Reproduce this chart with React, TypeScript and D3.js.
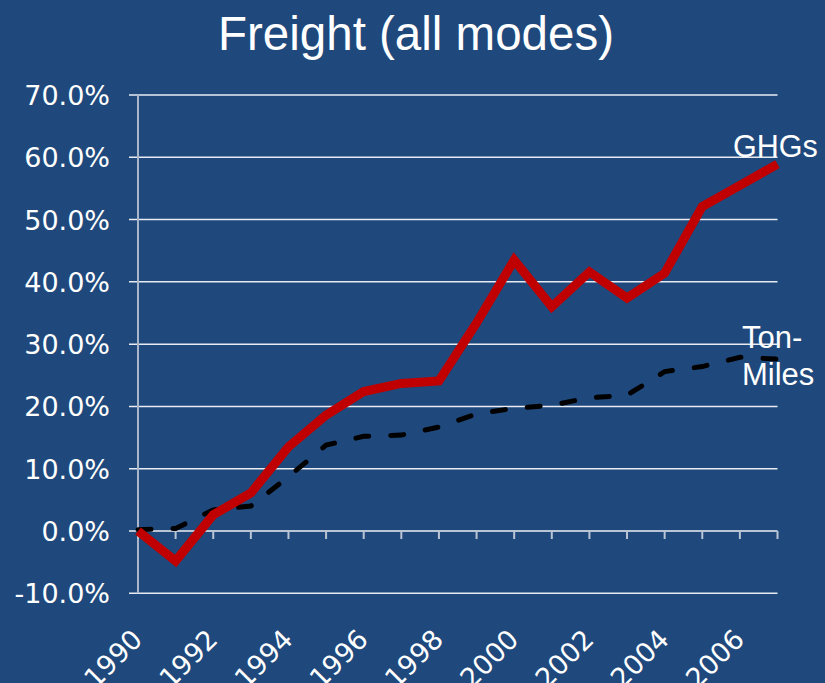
import React from "react";
import * as d3 from "d3";

// values (percent change vs 1990)
const years = [1990, 1991, 1992, 1993, 1994, 1995, 1996, 1997, 1998, 1999, 2000, 2001, 2002, 2003, 2004, 2005, 2006, 2007];
const ghgs = [0, -4.8, 2.6, 6.1, 13.5, 18.6, 22.4, 23.7, 24.1, 33.4, 43.5, 36.0, 41.6, 37.4, 41.4, 52.1, 55.5, 58.9];
const tonMiles = [0.2, 0.4, 3.4, 4.0, 8.7, 13.8, 15.2, 15.4, 16.7, 18.8, 19.7, 20.2, 21.4, 21.8, 25.6, 26.4, 27.9, 27.6];
const yTicks = [-10, 0, 10, 20, 30, 40, 50, 60, 70];
const xLabelYears = [1990, 1992, 1994, 1996, 1998, 2000, 2002, 2004, 2006];

const W = 825;
const H = 683;
const bg = "#1F497D";

const App = () => {
  const x = d3.scaleLinear().domain([1990, 2007]).range([138, 777.5]);
  const y = d3.scaleLinear().domain([-10, 70]).range([593.3, 95]);

  const line = d3.line<number>()
    .x((d, i) => x(years[i]))
    .y((d) => y(d));

  const numFont = "'DejaVu Sans', Verdana, sans-serif";
  const txtFont = "'Liberation Sans', Arial, sans-serif";

  return (
    <svg width={W} height={H} style={{ position: "absolute", left: 0, top: 0 }}>
      <rect x={0} y={0} width={W} height={H} fill={bg} />

      <text x={416} y={50} textAnchor="middle" fill="#fff" fontFamily={txtFont} fontSize={47.5}>
        Freight (all modes)
      </text>

      {/* gridlines + y labels */}
      {yTicks.map((t) => (
        <g key={t}>
          {t !== 0 && (
            <line x1={129} x2={777.5} y1={y(t)} y2={y(t)} stroke="#e8ecf2" strokeWidth={1.5} />
          )}
          <text x={110} y={y(t) + 10} textAnchor="end" fill="#fff" fontFamily={numFont} fontSize={27}>
            {t.toFixed(1) + "%"}
          </text>
        </g>
      ))}

      {/* y axis */}
      <line x1={138} x2={138} y1={95} y2={593.3} stroke="#a9b6c9" strokeWidth={2} />
      {/* category axis at 0% */}
      <line x1={129} x2={777.5} y1={y(0)} y2={y(0)} stroke="#b9c4d4" strokeWidth={2} />
      {years.map((yr) => (
        <line key={yr} x1={x(yr)} x2={x(yr)} y1={y(0)} y2={y(0) + 8} stroke="#b9c4d4" strokeWidth={2} />
      ))}

      {/* x labels (cut by the bottom edge, as in the original) */}
      {xLabelYears.map((yr) => (
        <text
          key={yr}
          transform={`translate(${x(yr) + 6},${641}) rotate(-45)`}
          textAnchor="end"
          fill="#fff"
          fontFamily={numFont}
          fontSize={27}
        >
          {yr}
        </text>
      ))}

      <path d={line(tonMiles) || ""} fill="none" stroke="#000" strokeWidth={5} strokeDasharray="13 22" strokeLinecap="round" />
      <path d={line(ghgs) || ""} fill="none" stroke="#C00000" strokeWidth={9} strokeLinejoin="miter" />

      <text x={733} y={157} fill="#fff" fontFamily={txtFont} fontSize={30.5}>GHGs</text>
      <text x={742} y={348} fill="#fff" fontFamily={txtFont} fontSize={31}>Ton-</text>
      <text x={742} y={385} fill="#fff" fontFamily={txtFont} fontSize={31}>Miles</text>
    </svg>
  );
};

export default App;
